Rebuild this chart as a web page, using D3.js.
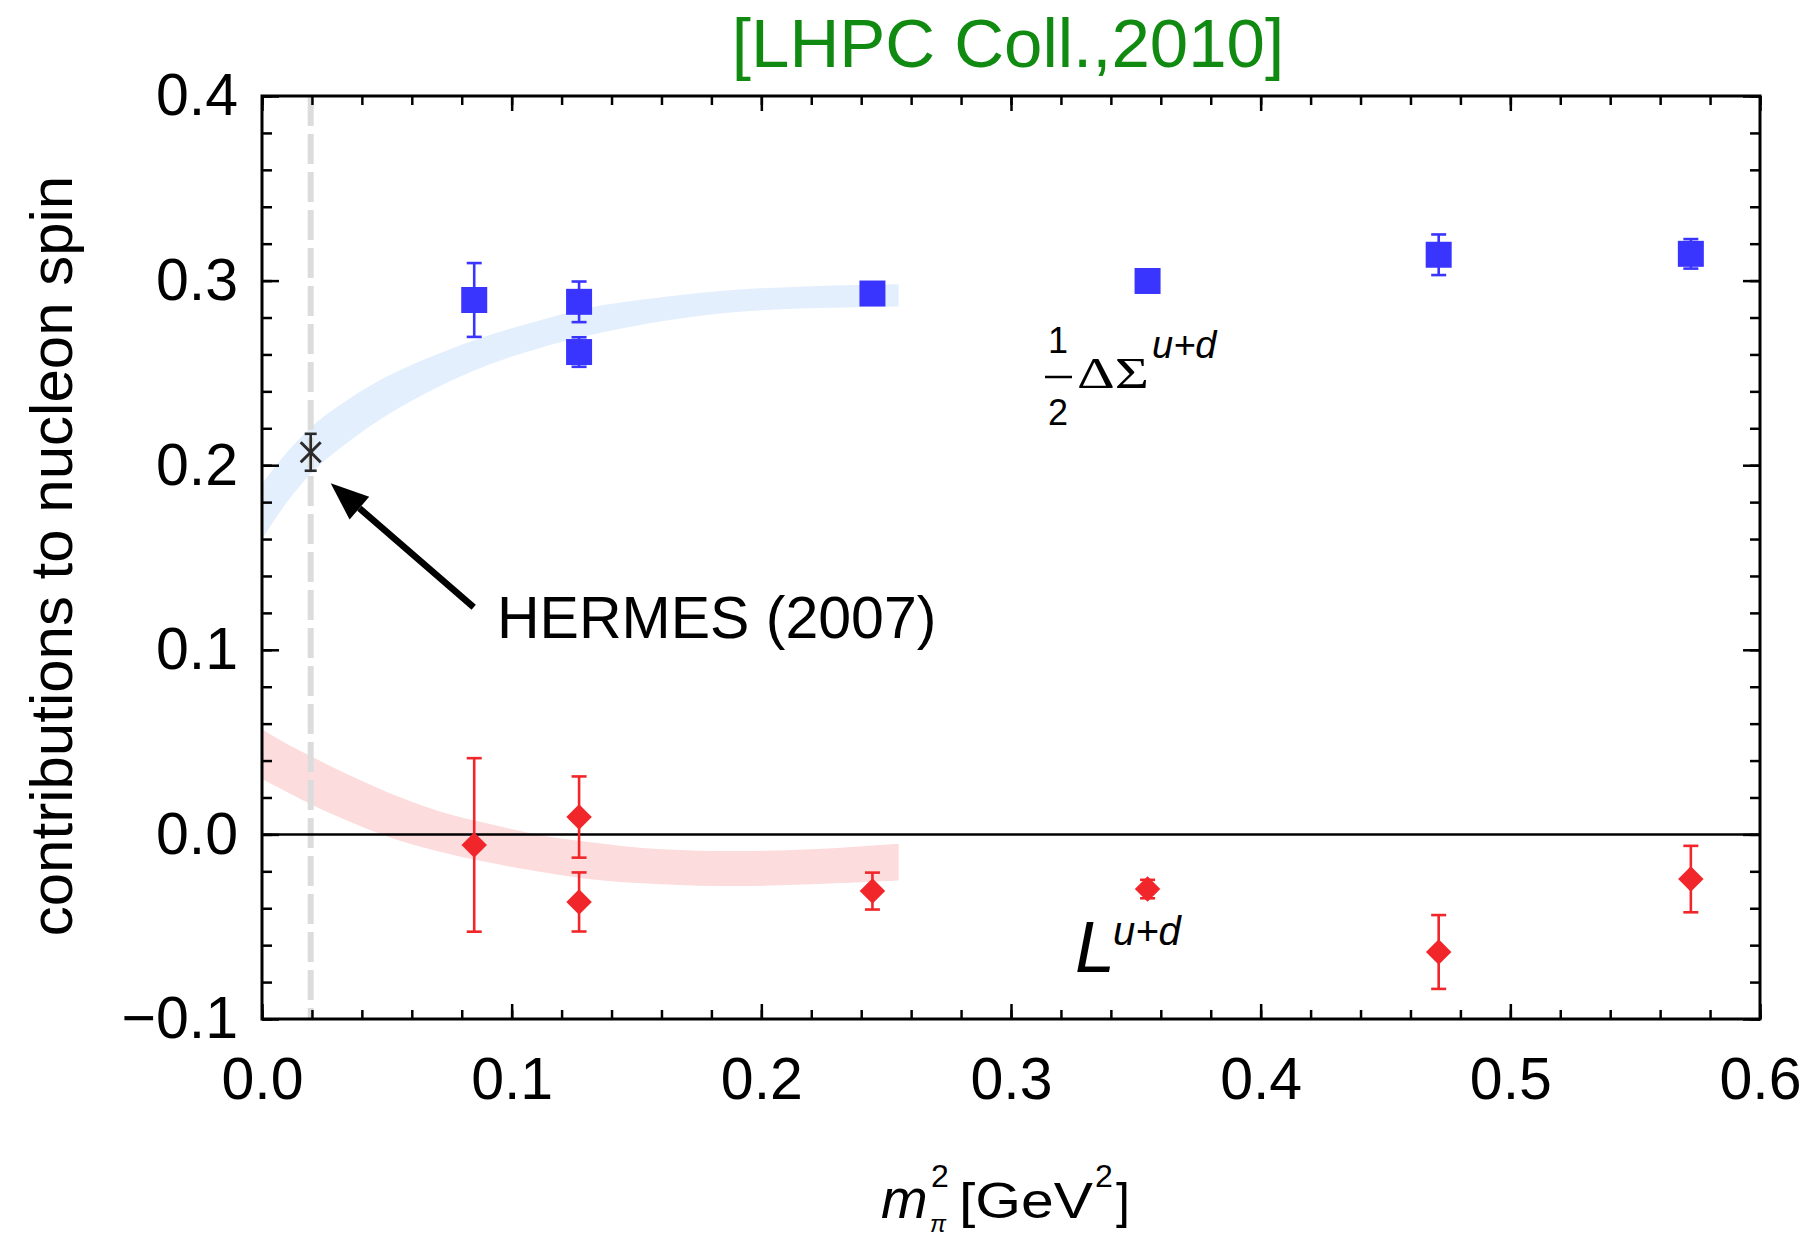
<!DOCTYPE html>
<html>
<head>
<meta charset="utf-8">
<script src="https://cdn.jsdelivr.net/npm/d3@7"></script>
<style>
  body { margin: 0; background: #fff; }
  svg { display: block; }
  text { font-family: "Liberation Sans", Arial, Helvetica, sans-serif; }
</style>
</head>
<body>
<script>
// ---- axis ticks ----
const xTickValues = [0, 0.1, 0.2, 0.3, 0.4, 0.5, 0.6];
const xTickLabels = ["0.0", "0.1", "0.2", "0.3", "0.4", "0.5", "0.6"];
const yTickValues = [-0.1, 0, 0.1, 0.2, 0.3, 0.4];
const yTickLabels = ["\u22120.1", "0.0", "0.1", "0.2", "0.3", "0.4"];

// ---- lattice data: quark spin (1/2 ΔΣ^{u+d}) ----
const mpi2Spin   = [0.085, 0.127, 0.127, 0.2445, 0.3547, 0.4713, 0.5723];
const deltaSigma = [0.2895, 0.2885, 0.2613, 0.293, 0.2998, 0.314, 0.3145];
const deltaSigmaErr = [0.020, 0.011, 0.008, 0.004, 0.004, 0.011, 0.008];

// ---- lattice data: quark orbital angular momentum (L^{u+d}) ----
const mpi2L  = [0.085, 0.127, 0.127, 0.2445, 0.3547, 0.4713, 0.5723];
const Lud    = [-0.0057, 0.0094, -0.0366, -0.0307, -0.0296, -0.0637, -0.0242];
const LudErr = [0.047, 0.022, 0.016, 0.010, 0.005, 0.020, 0.018];

// ---- HERMES (2007) experimental point ----
const hermesX = [0.0195];
const hermesY = [0.207];
const hermesErr = [0.010];
const physicalMpi2 = 0.0195;

// ---- chiral fit bands ----
const bandX    = [0, 0.01, 0.02, 0.035, 0.05, 0.07, 0.09, 0.11, 0.13, 0.16, 0.19, 0.22, 0.255];
const spinLo   = [0.160, 0.180, 0.196, 0.213, 0.227, 0.242, 0.254, 0.263, 0.270, 0.278, 0.283, 0.285, 0.286];
const spinHi   = [0.190, 0.207, 0.221, 0.236, 0.248, 0.260, 0.270, 0.278, 0.285, 0.291, 0.295, 0.297, 0.298];
const orbitLo  = [0.030, 0.023, 0.016, 0.007, -0.001, -0.009, -0.015, -0.020, -0.024, -0.027, -0.028, -0.027, -0.025];
const orbitHi  = [0.057, 0.049, 0.042, 0.032, 0.023, 0.013, 0.006, 0.000, -0.004, -0.008, -0.009, -0.008, -0.005];

const W = 1807, H = 1237;
const plotL = 262, plotR = 1760, plotT = 96, plotB = 1019;

const BLUE = "#3a34ff", RED = "#f0262a";
const SERIF = "'Liberation Serif', 'DejaVu Serif', serif";

const svg = d3.select("body").append("svg").attr("width", W).attr("height", H);

const x = d3.scaleLinear().domain([0, 0.6]).range([plotL, plotR]);
const y = d3.scaleLinear().domain([-0.1, 0.4]).range([plotB, plotT]);

svg.append("clipPath").attr("id", "plot-clip")
  .append("rect").attr("x", plotL).attr("y", plotT)
  .attr("width", plotR - plotL).attr("height", plotB - plotT);

const plot = svg.append("g").attr("clip-path", "url(#plot-clip)");

// fit bands
const area = d3.area()
  .x(d => x(d.x)).y0(d => y(d.lo)).y1(d => y(d.hi))
  .curve(d3.curveMonotoneX);

const spinBand = bandX.map((v, i) => ({ x: v, lo: spinLo[i], hi: spinHi[i] }));
const orbitBand = bandX.map((v, i) => ({ x: v, lo: orbitLo[i], hi: orbitHi[i] }));

plot.append("path").datum(spinBand).attr("d", area).attr("fill", "#e4effd");
plot.append("path").datum(orbitBand).attr("d", area).attr("fill", "#fcdcdc");

// physical pion mass
plot.append("line")
  .attr("x1", x(physicalMpi2)).attr("x2", x(physicalMpi2))
  .attr("y1", plotT).attr("y2", plotB)
  .attr("stroke", "#dcdcdc").attr("stroke-width", 6)
  .attr("stroke-dasharray", "30,8");

// zero line
plot.append("line")
  .attr("x1", plotL).attr("x2", plotR)
  .attr("y1", y(0)).attr("y2", y(0))
  .attr("stroke", "#000").attr("stroke-width", 2.5);

// ---- axes ----
const tickStyle = g => {
  g.select(".domain").remove();
  g.selectAll(".tick line").attr("stroke", "#000").attr("stroke-width", 2.5);
  g.selectAll(".tick text").attr("fill", "#000").attr("font-size", 59);
};
const xMinor = d3.range(0, 31).map(i => i * 0.02);
const yMinor = d3.range(0, 26).map(i => -0.1 + i * 0.02);

// minor ticks on all four sides
svg.append("g").attr("transform", `translate(0,${plotB})`)
  .call(d3.axisBottom(x).tickValues(xMinor).tickFormat("").tickSizeInner(-9).tickSizeOuter(0)).call(tickStyle);
svg.append("g").attr("transform", `translate(0,${plotT})`)
  .call(d3.axisTop(x).tickValues(xMinor).tickFormat("").tickSizeInner(-9).tickSizeOuter(0)).call(tickStyle);
svg.append("g").attr("transform", `translate(${plotL},0)`)
  .call(d3.axisLeft(y).tickValues(yMinor).tickFormat("").tickSizeInner(-10).tickSizeOuter(0)).call(tickStyle);
svg.append("g").attr("transform", `translate(${plotR},0)`)
  .call(d3.axisRight(y).tickValues(yMinor).tickFormat("").tickSizeInner(-10).tickSizeOuter(0)).call(tickStyle);

// major ticks with labels
svg.append("g").attr("transform", `translate(0,${plotB})`)
  .call(d3.axisBottom(x).tickValues(xTickValues).tickFormat((d, i) => xTickLabels[i])
    .tickSizeInner(-15).tickSizeOuter(0).tickPadding(38)).call(tickStyle);
svg.append("g").attr("transform", `translate(0,${plotT})`)
  .call(d3.axisTop(x).tickValues(xTickValues).tickFormat("").tickSizeInner(-15).tickSizeOuter(0)).call(tickStyle);
svg.append("g").attr("transform", `translate(${plotL},0)`)
  .call(d3.axisLeft(y).tickValues(yTickValues).tickFormat((d, i) => yTickLabels[i])
    .tickSizeInner(-17).tickSizeOuter(0).tickPadding(24)).call(tickStyle);
svg.append("g").attr("transform", `translate(${plotR},0)`)
  .call(d3.axisRight(y).tickValues(yTickValues).tickFormat("").tickSizeInner(-17).tickSizeOuter(0)).call(tickStyle);

// frame
svg.append("rect")
  .attr("x", plotL).attr("y", plotT)
  .attr("width", plotR - plotL).attr("height", plotB - plotT)
  .attr("fill", "none").attr("stroke", "#000").attr("stroke-width", 3);

// ---- error bars and markers ----
function errorBars(xs, ys, es, color, capW) {
  const g = svg.append("g").attr("stroke", color).attr("stroke-width", 2.6).attr("fill", "none");
  xs.forEach((xv, i) => {
    const cx = x(xv), y1 = y(ys[i] + es[i]), y2 = y(ys[i] - es[i]);
    g.append("line").attr("x1", cx).attr("x2", cx).attr("y1", y1).attr("y2", y2);
    g.append("line").attr("x1", cx - capW / 2).attr("x2", cx + capW / 2).attr("y1", y1).attr("y2", y1);
    g.append("line").attr("x1", cx - capW / 2).attr("x2", cx + capW / 2).attr("y1", y2).attr("y2", y2);
  });
}

errorBars(mpi2Spin, deltaSigma, deltaSigmaErr, BLUE, 15);
errorBars(mpi2L, Lud, LudErr, RED, 15);

const square = d3.symbol().type(d3.symbolSquare).size(26 * 26);
svg.append("g").selectAll("path").data(mpi2Spin).join("path")
  .attr("d", square)
  .attr("transform", (d, i) => `translate(${x(d)},${y(deltaSigma[i])})`)
  .attr("fill", BLUE);

const diamond = d3.symbol().type(d3.symbolSquare).size(18 * 18);
svg.append("g").selectAll("path").data(mpi2L).join("path")
  .attr("d", diamond)
  .attr("transform", (d, i) => `translate(${x(d)},${y(Lud[i])}) rotate(45)`)
  .attr("fill", RED);

// HERMES point: error bar with asterisk marker
errorBars(hermesX, hermesY, hermesErr, "#2a2a2a", 12);
const star = svg.append("g").attr("stroke", "#2a2a2a").attr("stroke-width", 3);
hermesX.forEach((xv, i) => {
  const cx = x(xv), cy = y(hermesY[i]);
  star.append("line").attr("x1", cx - 10).attr("x2", cx + 10).attr("y1", cy - 10).attr("y2", cy + 10);
  star.append("line").attr("x1", cx - 10).attr("x2", cx + 10).attr("y1", cy + 10).attr("y2", cy - 10);
});

// annotation arrow pointing at HERMES
const tipX = x(hermesX[0]) + 20, tipY = y(hermesY[0]) + 31;
const tailX = tipX + 143, tailY = tipY + 124;
const ang = Math.atan2(tailY - tipY, tailX - tipX);
const headLen = 38, headHalf = 15;
const bx = tipX + headLen * Math.cos(ang), by = tipY + headLen * Math.sin(ang);
svg.append("line")
  .attr("x1", tailX).attr("y1", tailY).attr("x2", bx).attr("y2", by)
  .attr("stroke", "#000").attr("stroke-width", 6.5);
svg.append("path")
  .attr("d", `M${tipX},${tipY} L${bx - headHalf * Math.sin(ang)},${by + headHalf * Math.cos(ang)} L${bx + headHalf * Math.sin(ang)},${by - headHalf * Math.cos(ang)} Z`)
  .attr("fill", "#000");

svg.append("text")
  .attr("x", 497).attr("y", 638)
  .attr("font-size", 59).attr("fill", "#000")
  .text("HERMES (2007)");

// ---- series labels ----
const spinLabel = svg.append("g");
spinLabel.append("text").attr("x", 1058).attr("y", 353).attr("text-anchor", "middle")
  .attr("font-size", 36).text("1");
spinLabel.append("line").attr("x1", 1045).attr("x2", 1072).attr("y1", 377).attr("y2", 377)
  .attr("stroke", "#000").attr("stroke-width", 2.5);
spinLabel.append("text").attr("x", 1058).attr("y", 425).attr("text-anchor", "middle")
  .attr("font-size", 36).text("2");
spinLabel.append("text").attr("x", 1077).attr("y", 388)
  .style("font-family", SERIF)
  .attr("font-size", 44).attr("textLength", 72).attr("lengthAdjust", "spacingAndGlyphs")
  .text("\u0394\u03A3");
spinLabel.append("text").attr("x", 1152).attr("y", 358)
  .attr("font-size", 38).attr("font-style", "italic").text("u+d");

const orbitLabel = svg.append("g");
orbitLabel.append("text").attr("x", 1075).attr("y", 972)
  .attr("font-size", 72).attr("font-style", "italic").text("L");
orbitLabel.append("text").attr("x", 1113).attr("y", 945)
  .attr("font-size", 40).attr("font-style", "italic").text("u+d");

// ---- axis titles ----
svg.append("text")
  .attr("transform", "translate(72,556) rotate(-90)")
  .attr("text-anchor", "middle").attr("font-size", 60)
  .text("contributions to nucleon spin");

const xTitle = svg.append("g");
xTitle.append("text").attr("x", 881).attr("y", 1218)
  .attr("font-size", 56).attr("font-style", "italic").text("m");
xTitle.append("text").attr("x", 931).attr("y", 1187).attr("font-size", 32).text("2");
xTitle.append("text").attr("x", 930).attr("y", 1232)
  .attr("font-size", 24).attr("font-style", "italic").text("\u03C0");
xTitle.append("text").attr("x", 959).attr("y", 1218).attr("font-size", 50)
  .attr("textLength", 134).attr("lengthAdjust", "spacingAndGlyphs").text("[GeV");
xTitle.append("text").attr("x", 1095).attr("y", 1187).attr("font-size", 32).text("2");
xTitle.append("text").attr("x", 1116).attr("y", 1218).attr("font-size", 50).text("]");

// ---- title ----
svg.append("text")
  .attr("x", 1008).attr("y", 67).attr("text-anchor", "middle")
  .attr("font-size", 69).attr("fill", "#118a11")
  .text("[LHPC Coll.,2010]");
</script>
</body>
</html>
